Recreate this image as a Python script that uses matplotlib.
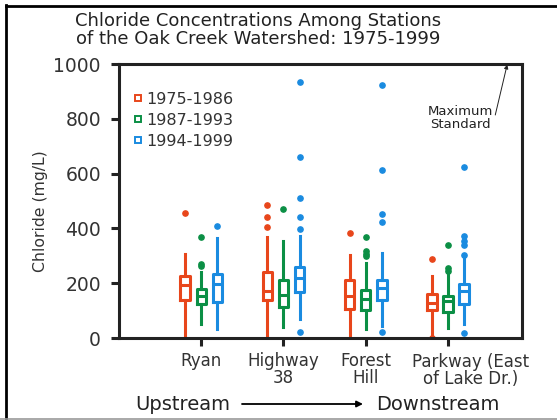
import matplotlib
matplotlib.use('Agg')
import matplotlib.pyplot as plt
from matplotlib.lines import Line2D

stations = ['Ryan', 'Highway\n38', 'Forest\nHill', 'Parkway (East\nof Lake Dr.)']
periods = ['1975-1986', '1987-1993', '1994-1999']
colors = ['#E8461B', '#0B8F45', '#1A8BE0']

# box statistics per period, one value per station (mg/L)
whislo = [[0, 7, 4, 8], [50, 40, 34, 38], [32, 68, 44, 50]]
q1 = [[138, 139, 105, 102], [123, 113, 101, 95], [133, 169, 138, 123]]
med = [[194, 172, 152, 127], [155, 157, 144, 135], [196, 218, 182, 172]]
q3 = [[226, 242, 213, 162], [179, 212, 177, 155], [235, 260, 213, 196]]
whishi = [[308, 367, 303, 227], [242, 355, 273, 233], [364, 373, 310, 288]]
fliers = [
    [[456], [485, 442, 406], [383], [288, 0]],
    [[367, 269, 262], [470], [368, 318, 308, 300], [340, 257, 245]],
    [[409], [933, 662, 512, 442, 397, 23], [924, 612, 452, 422, 22], [623, 373, 355, 339, 303, 19]],
]

fig = plt.figure(figsize=(5.57, 4.2), dpi=100)
ax = fig.add_axes([119/557, 1-338/420, 403/557, 274/420])

offset = 0.195
for p in range(3):
    stats = []
    for s in range(4):
        stats.append(dict(med=med[p][s], q1=q1[p][s], q3=q3[p][s],
                          whislo=whislo[p][s], whishi=whishi[p][s],
                          fliers=fliers[p][s]))
    pos = [s + 1 + (p - 1) * offset for s in range(4)]
    c = colors[p]
    ax.bxp(stats, positions=pos, widths=0.115, showcaps=False,
           boxprops=dict(color=c, linewidth=2.2),
           whiskerprops=dict(color=c, linewidth=2.2),
           medianprops=dict(color=c, linewidth=2.2),
           flierprops=dict(marker='o', markersize=3.8, markerfacecolor=c,
                           markeredgecolor=c, linestyle='none'),
           manage_ticks=False)

ax.set_xlim(0, 4.9)
ax.set_ylim(0, 1000)
ax.set_yticks([0, 200, 400, 600, 800, 1000])
ax.set_xticks([1, 2, 3, 4])
# last label sits right of its tick in the original, drawn separately below
ax.set_xticklabels(stations[:-1] + [''], fontsize=12, linespacing=0.95, color='#333333')
for lab in ax.get_yticklabels():
    lab.set_fontsize(13.5)
    lab.set_color('#333333')
ax.annotate(stations[-1], xy=(4, 0), xycoords=('data', 'axes fraction'),
            xytext=(23, -15), textcoords='offset pixels', ha='center', va='top',
            fontsize=12, linespacing=0.95, color='#333333')

ax.tick_params(axis='both', direction='out', length=6, width=2.2, color='#222222')
ax.tick_params(axis='y', pad=7)
ax.tick_params(axis='x', pad=4)
for sp in ax.spines.values():
    sp.set_linewidth(2.2)
    sp.set_color('#222222')

handles = [Line2D([], [], marker='s', linestyle='none', markersize=5,
                  markerfacecolor='white', markeredgecolor=c, markeredgewidth=1.4)
           for c in colors]
ax.legend(handles, periods, loc='upper left', bbox_to_anchor=(0.035, 0.899),
          frameon=False, fontsize=11.5, handlelength=0.6, handletextpad=0.25,
          labelspacing=0.38, borderpad=0, borderaxespad=0, labelcolor='#333333')

ax.text(4.146, 803, 'Maximum\nStandard', ha='center', va='center', fontsize=9.5,
        linespacing=1.0, color='#222222')
ax.annotate('', xy=(4.72, 998), xytext=(4.575, 814),
            arrowprops=dict(arrowstyle='-|>', lw=0.7, color='#222222', mutation_scale=6,
                            shrinkA=0, shrinkB=0))

fig.text(258/557, 1-30/420, 'Chloride Concentrations Among Stations\nof the Oak Creek Watershed: 1975-1999',
         ha='center', va='center', fontsize=13, linespacing=1.0, color='#222222')
fig.text(40/557, 1-211/420, 'Chloride (mg/L)', rotation=90, ha='center', va='center',
         fontsize=11.3, color='#333333')

fig.text(183/557, 1-405/420, 'Upstream', ha='center', va='center', fontsize=14, color='#222222')
fig.text(438/557, 1-405/420, 'Downstream', ha='center', va='center', fontsize=14, color='#222222')
fig.add_artist(plt.Annotation(
    '', xy=(363/557, 1-404/420), xytext=(242/557, 1-404/420), xycoords='figure fraction',
    textcoords='figure fraction',
    arrowprops=dict(arrowstyle='-|>', lw=1.3, color='black', mutation_scale=9,
                    shrinkA=0, shrinkB=0)))

# outer frame
fig.add_artist(Line2D([6/557, 6/557], [0, 1-5/420], transform=fig.transFigure, color='black', lw=2))
fig.add_artist(Line2D([6/557, 1], [1-5.5/420, 1-5.5/420], transform=fig.transFigure, color='black', lw=2))
fig.add_artist(Line2D([0, 1], [1.5/420, 1.5/420], transform=fig.transFigure, color='#999999', lw=1.2))

fig.savefig('out.png', dpi=100)
